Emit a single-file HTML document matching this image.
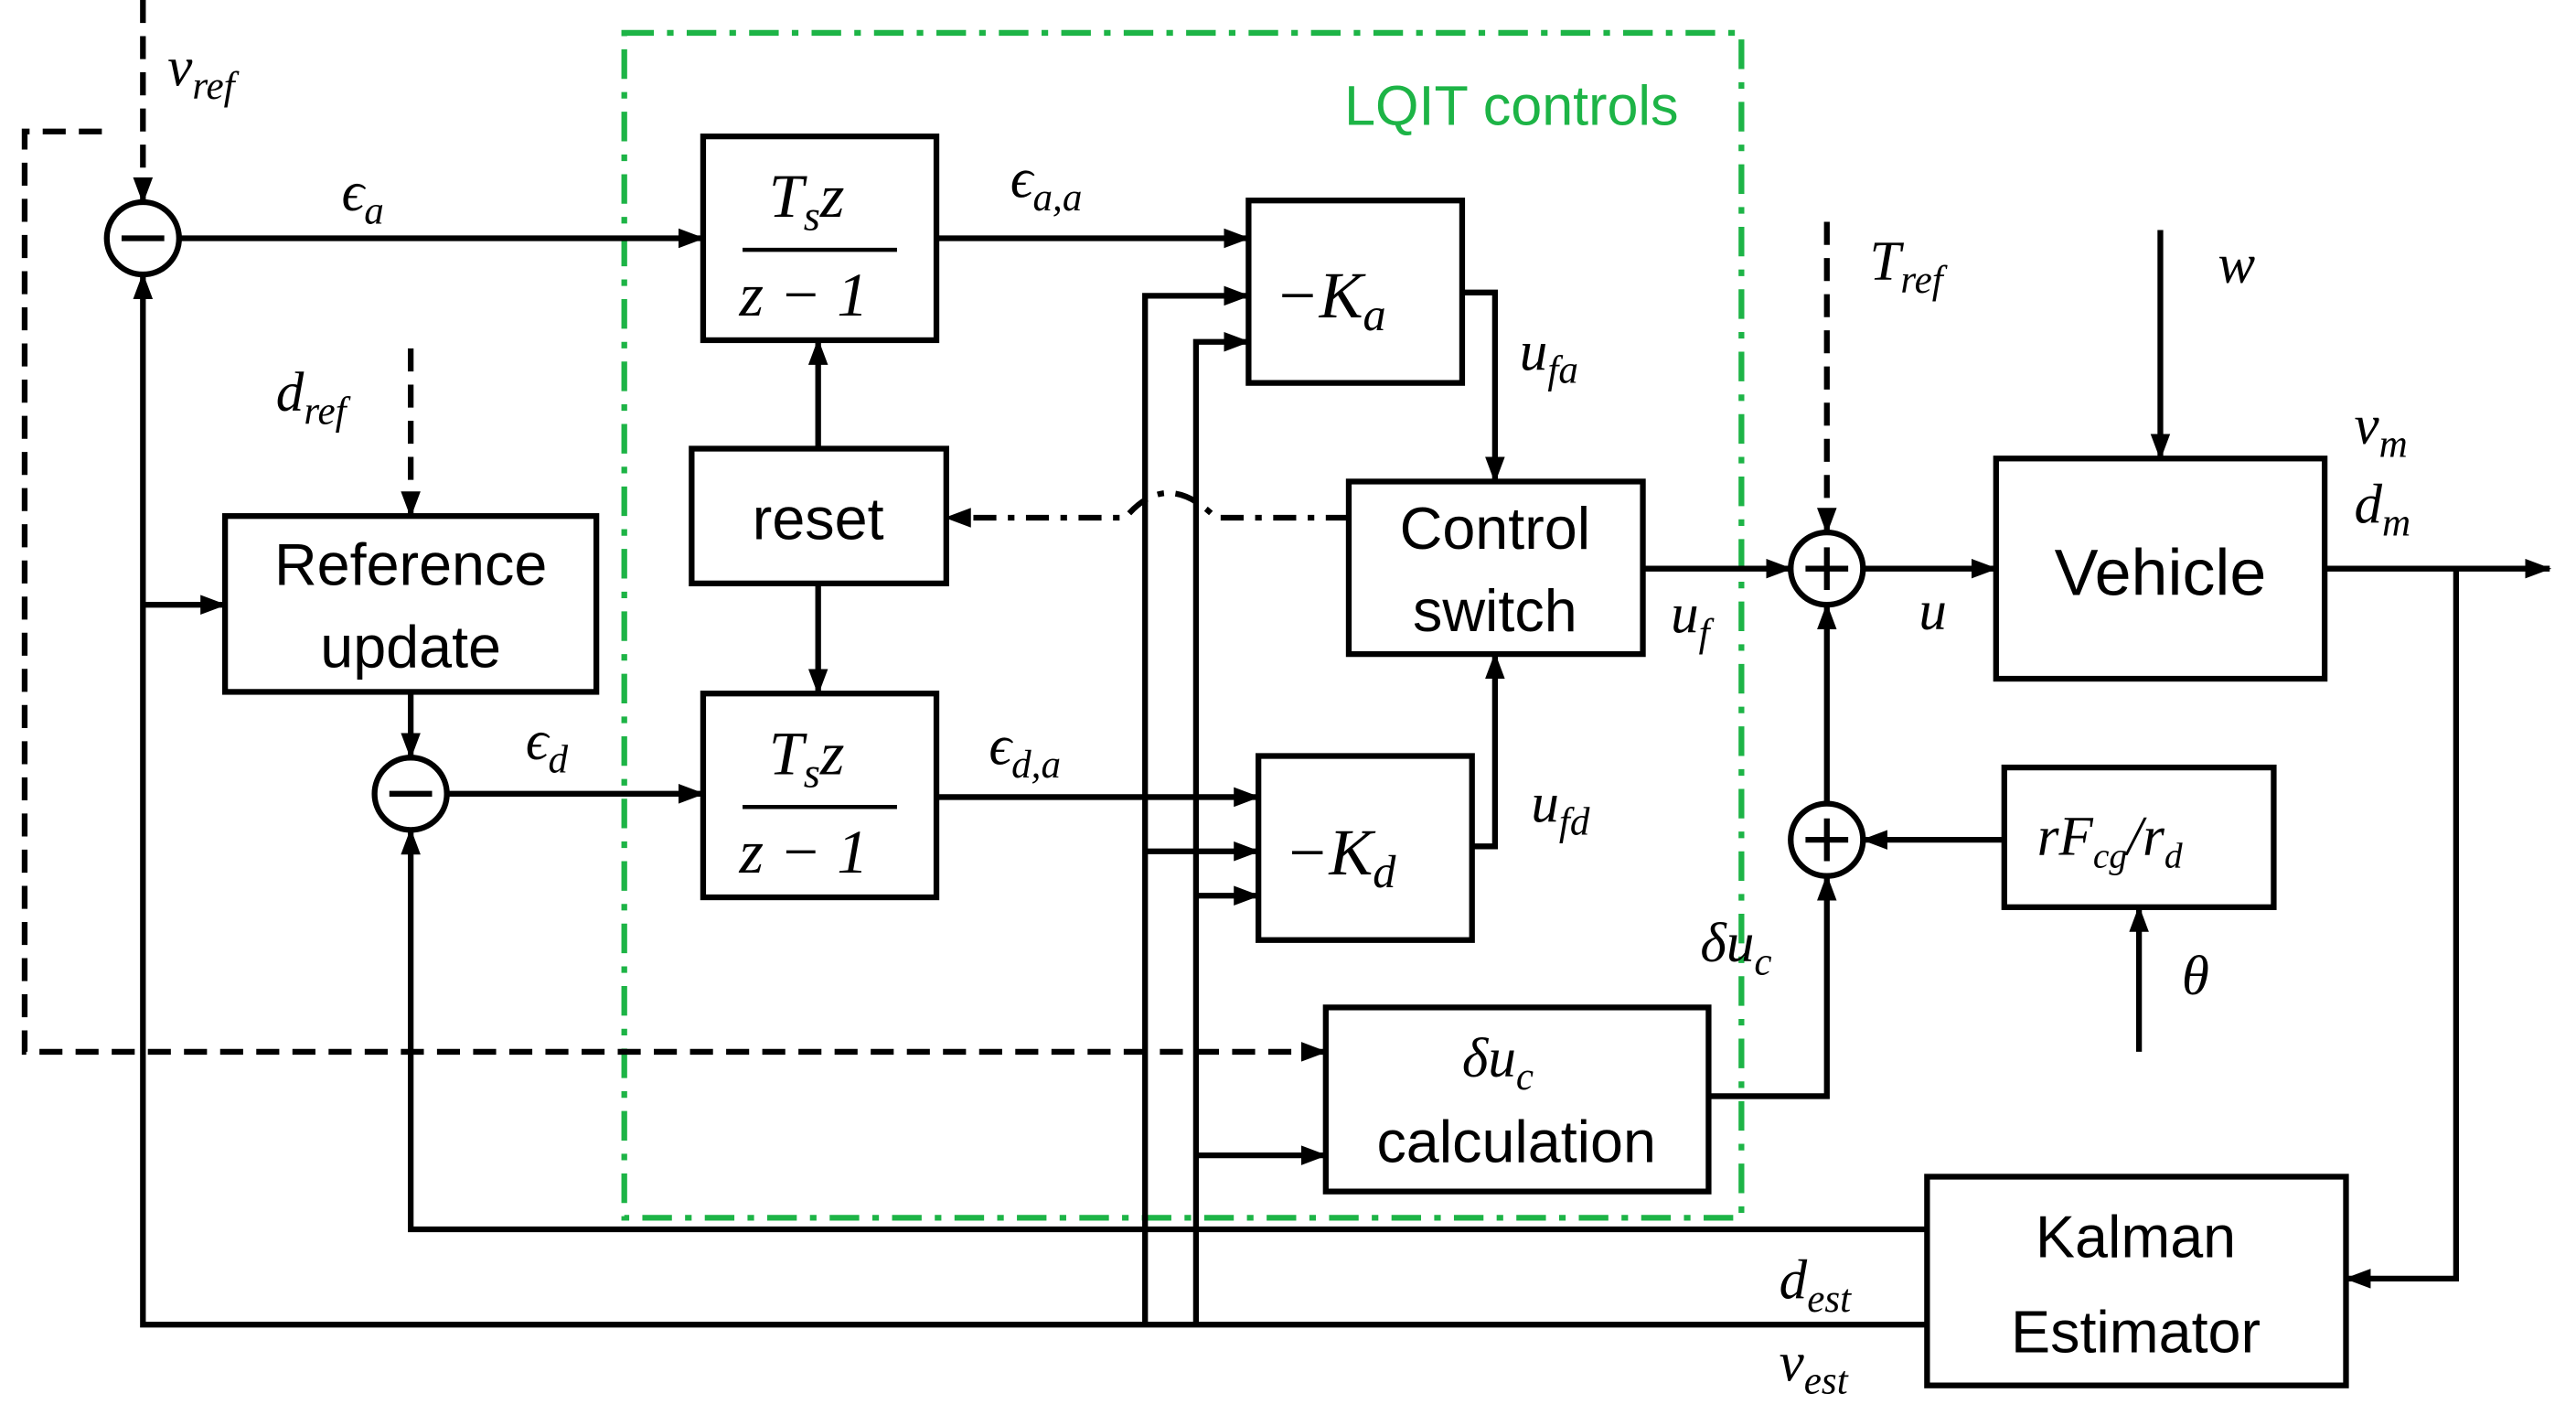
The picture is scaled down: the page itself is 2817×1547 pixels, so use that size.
<!DOCTYPE html>
<html><head><meta charset="utf-8"><style>
html,body{margin:0;padding:0;background:#fff;}
svg{display:block;}
.m{font-family:"Liberation Serif",serif;font-style:italic;font-size:34px;}
.s{font-family:"Liberation Sans",sans-serif;font-size:36px;}
</style></head><body>
<svg width="2817" height="1547" viewBox="0 0 1568 861" preserveAspectRatio="none" xmlns="http://www.w3.org/2000/svg">
<defs>
<marker id="a" viewBox="0 0 16 12" refX="15" refY="6" markerWidth="16" markerHeight="12" orient="auto" markerUnits="userSpaceOnUse">
<path d="M0,0 L16,6 L0,12 z" fill="#000"/>
</marker>
</defs>
<g fill="none" stroke="#000" stroke-width="3.5">
<rect x="380" y="20" width="680" height="721" stroke="#1db446" stroke-dasharray="18,8,4,8"/>
<rect x="428" y="83" width="142" height="124"/>
<rect x="421" y="273" width="155" height="82"/>
<rect x="428" y="422" width="142" height="124"/>
<rect x="760" y="122" width="130" height="111"/>
<rect x="821" y="293" width="179" height="105"/>
<rect x="766" y="460" width="130" height="112"/>
<rect x="807" y="613" width="233" height="112"/>
<rect x="137" y="314" width="226" height="107"/>
<rect x="1215" y="279" width="200" height="134"/>
<rect x="1220" y="467" width="164" height="85"/>
<rect x="1173" y="716" width="255" height="127"/>
<circle cx="87" cy="145" r="22"/>
<circle cx="250" cy="483" r="22"/>
<circle cx="1112" cy="346" r="22"/>
<circle cx="1112" cy="511" r="22"/>
<line x1="452" y1="152" x2="546" y2="152" stroke-width="2.5"/>
<line x1="452" y1="491" x2="546" y2="491" stroke-width="2.5"/>
<path d="M109,145 H428" marker-end="url(#a)"/>
<path d="M570,145 H760" marker-end="url(#a)"/>
<path d="M570,485 H766" marker-end="url(#a)"/>
<path d="M498,273 V207" marker-end="url(#a)"/>
<path d="M498,355 V422" marker-end="url(#a)"/>
<path d="M890,178 H910 V293" marker-end="url(#a)"/>
<path d="M896,515 H910 V398" marker-end="url(#a)"/>
<path d="M1000,346 H1090" marker-end="url(#a)"/>
<path d="M1134,346 H1215" marker-end="url(#a)"/>
<path d="M1315,140 V279" marker-end="url(#a)"/>
<path d="M1415,346 H1552" marker-end="url(#a)"/>
<path d="M1495,346 V778 H1428" marker-end="url(#a)"/>
<path d="M1220,511 H1134" marker-end="url(#a)"/>
<path d="M1302,640 V552" marker-end="url(#a)"/>
<path d="M1112,489 V368" marker-end="url(#a)"/>
<path d="M1040,667 H1112 V533" marker-end="url(#a)"/>
<path d="M1173,748 H250 V505" marker-end="url(#a)"/>
<path d="M1173,806 H87 V167" marker-end="url(#a)"/>
<path d="M87,368 H137" marker-end="url(#a)"/>
<path d="M697,806 V180 H760" marker-end="url(#a)"/>
<path d="M697,518 H766" marker-end="url(#a)"/>
<path d="M728,806 V208 H760" marker-end="url(#a)"/>
<path d="M728,545 H766" marker-end="url(#a)"/>
<path d="M728,703 H807" marker-end="url(#a)"/>
<path d="M250,421 V461" marker-end="url(#a)"/>
<path d="M272,483 H428" marker-end="url(#a)"/>
<path d="M87,0 V123" stroke-dasharray="14,8" marker-end="url(#a)"/>
<path d="M62,80 H15 V640 H807" stroke-dasharray="14,8" marker-end="url(#a)"/>
<path d="M1112,135 V324" stroke-dasharray="14,8" marker-end="url(#a)"/>
<path d="M250,212 V314" stroke-dasharray="14,8" marker-end="url(#a)"/>
<path d="M821,315 H740 Q710,285 685,315 H576" stroke-dasharray="14,7,4,7" marker-end="url(#a)"/>
</g>
<g stroke="#000" stroke-width="3.5">
<line x1="74" y1="145" x2="100" y2="145"/>
<line x1="237" y1="483" x2="263" y2="483"/>
<line x1="1099" y1="346" x2="1125" y2="346"/><line x1="1112" y1="333" x2="1112" y2="359"/>
<line x1="1099" y1="511" x2="1125" y2="511"/><line x1="1112" y1="498" x2="1112" y2="524"/>
</g>
<g class="m">
<text x="102" y="52">v<tspan font-size="24" dy="8">ref</tspan></text>
<text x="208" y="128">ϵ<tspan font-size="24" dy="8">a</tspan></text>
<text x="168" y="250">d<tspan font-size="24" dy="8">ref</tspan></text>
<text x="320" y="462">ϵ<tspan font-size="24" dy="8">d</tspan></text>
<text x="468" y="132" font-size="38">T<tspan font-size="26" dy="8">s</tspan><tspan dy="-8">z</tspan></text>
<text x="450" y="192" font-size="38">z − 1</text>
<text x="468" y="471" font-size="38">T<tspan font-size="26" dy="8">s</tspan><tspan dy="-8">z</tspan></text>
<text x="450" y="531" font-size="38">z − 1</text>
<text x="615" y="120">ϵ<tspan font-size="24" dy="8">a,a</tspan></text>
<text x="602" y="465">ϵ<tspan font-size="24" dy="8">d,a</tspan></text>
<text x="776" y="193" font-size="40">−K<tspan font-size="28" dy="8">a</tspan></text>
<text x="782" y="532" font-size="40">−K<tspan font-size="28" dy="8">d</tspan></text>
<text x="925" y="225">u<tspan font-size="24" dy="8">fa</tspan></text>
<text x="932" y="500">u<tspan font-size="24" dy="8">fd</tspan></text>
<text x="1017" y="385">u<tspan font-size="24" dy="8">f</tspan></text>
<text x="1168" y="383">u</text>
<text x="1138" y="170">T<tspan font-size="24" dy="8">ref</tspan></text>
<text x="1350" y="172">w</text>
<text x="1433" y="270">v<tspan font-size="24" dy="8">m</tspan></text>
<text x="1433" y="318">d<tspan font-size="24" dy="8">m</tspan></text>
<text x="1035" y="585">δu<tspan font-size="24" dy="8">c</tspan></text>
<text x="890" y="655">δu<tspan font-size="24" dy="8">c</tspan></text>
<text x="1240" y="520">rF<tspan font-size="22" dy="8">cg</tspan><tspan dy="-8">/r</tspan><tspan font-size="22" dy="8">d</tspan></text>
<text x="1328" y="605">θ</text>
<text x="1083" y="790">d<tspan font-size="24" dy="8">est</tspan></text>
<text x="1083" y="840">v<tspan font-size="24" dy="8">est</tspan></text>
</g>
<g class="s" text-anchor="middle">
<text x="498" y="328">reset</text>
<text x="910" y="334">Control</text>
<text x="910" y="384">switch</text>
<text x="250" y="356">Reference</text>
<text x="250" y="406">update</text>
<text x="923" y="707">calculation</text>
<text x="1315" y="362" font-size="40">Vehicle</text>
<text x="1300" y="765">Kalman</text>
<text x="1300" y="823">Estimator</text>
<text x="920" y="76" fill="#1db446" font-size="34">LQIT controls</text>
</g>
</svg>
</body></html>
